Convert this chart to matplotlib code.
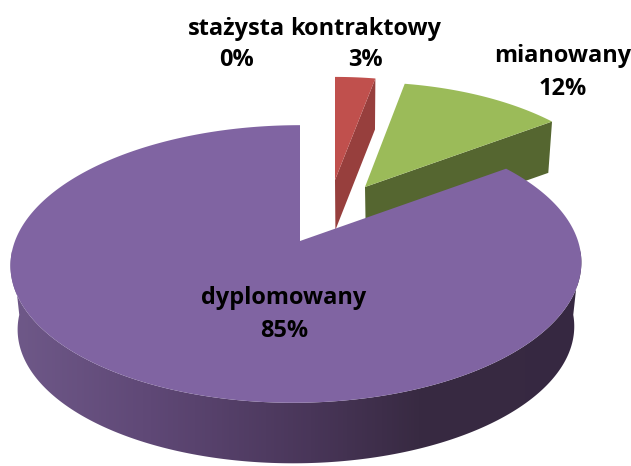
import numpy as np
import matplotlib
matplotlib.use("Agg")
import matplotlib.pyplot as plt
from matplotlib.patches import Polygon
from matplotlib.colors import LinearSegmentedColormap

categories = ["stażysta", "kontraktowy", "mianowany", "dyplomowany"]
percent = [0, 3, 12, 85]
top_colors = ["#4F81BD", "#C0504D", "#9BBB59", "#8064A2"]
side_colors = ["#3A5F8C", "#973F3D", "#556630"]
purple_side_stops = [(0, "#705A8A"), (150, "#5F4876"), (310, "#493659"), (420, "#382A42"), (631, "#362841")]
label_xy = [(236, 29, 60), (365.5, 29, 60), (562.5, 56, 89), (284, 298, 331)]

# projection of the pie's disc onto the screen
RX, RY, K = 281.5, 135.0, 0.1655

def rim(theta_deg, scale=1.0, shear=3.5):
    t = np.radians(theta_deg)
    u, v = np.sin(t), np.cos(t)
    f = scale / (1 + K * v)
    return RX * u * f + shear * v * scale, -RY * v * f

edges = np.cumsum([0] + percent) * 3.6

fig = plt.figure(figsize=(6.31, 4.66), dpi=100)
ax = fig.add_axes([0, 0, 1, 1])

def exploded(i, apex, scale, shear, depth, shrink):
    a, b = edges[i], edges[i + 1]
    ang = np.linspace(a, b, 60)
    x, y = rim(ang, scale, shear)
    x, y = x + apex[0], y + apex[1]
    ex, ey = rim(b, scale, shear)
    sx = [apex[0], apex[0] + ex, apex[0] + ex * shrink, apex[0] + 2 * (1 - shrink) * 20]
    sy = [apex[1], apex[1] + ey, apex[1] + ey * shrink + depth, apex[1] + depth]
    ax.add_patch(Polygon(np.c_[sx, sy], closed=True, fc=side_colors[i], ec="none", zorder=2 + i))
    ax.add_patch(Polygon(np.c_[np.r_[apex[0], x], np.r_[apex[1], y]], closed=True,
                         fc=top_colors[i], ec="none", zorder=2 + i))

exploded(1, (335, 180), 0.89, 0.0, 50, 0.99)
exploded(2, (365, 187), 0.905, -1.5, 50, 0.98)

# dominant slice: gradient front wall, then the top face
CX, APEX_Y = 296.5, 241
APEX_X = 300
DEPTH, SHRINK = 64, 0.975
EXT_Y = 264
ang = np.linspace(94, 266, 300)
xr, yr = rim(ang)
xt, yt = CX + xr, APEX_Y + yr
xb = CX + xr * SHRINK
yb = EXT_Y + (APEX_Y + yr - EXT_Y) * SHRINK + DEPTH
wall = Polygon(np.c_[np.r_[xt, xb[::-1]], np.r_[yt, yb[::-1]]], closed=True,
               fc="none", ec="none", transform=ax.transData)
ax.add_patch(wall)
cmap = LinearSegmentedColormap.from_list(
    "wall", [(s[0] / 631, s[1]) for s in purple_side_stops])
im = ax.imshow(np.linspace(0, 1, 631)[None, :], cmap=cmap, extent=(0, 631, 466, 0),
               aspect="auto", interpolation="bilinear", zorder=6)
im.set_clip_path(wall)

ang = np.linspace(edges[3], edges[4], 400)
x, y = rim(ang)
ax.add_patch(Polygon(np.c_[np.r_[APEX_X, CX + x], np.r_[APEX_Y, APEX_Y + y]], closed=True,
                     fc=top_colors[3], ec="none", zorder=7))

ax.set_xlim(0, 631)
ax.set_ylim(466, 0)
ax.axis("off")

font = dict(family="Open Sans", fontweight="bold", fontsize=16.9, color="black",
            ha="center", va="center", zorder=10)
for name, pct, (lx, y1, y2) in zip(categories, percent, label_xy):
    ax.text(lx, y1, name, **font)
    ax.text(lx, y2, f"{pct}%", **font)

fig.savefig("out.png", dpi=100)
